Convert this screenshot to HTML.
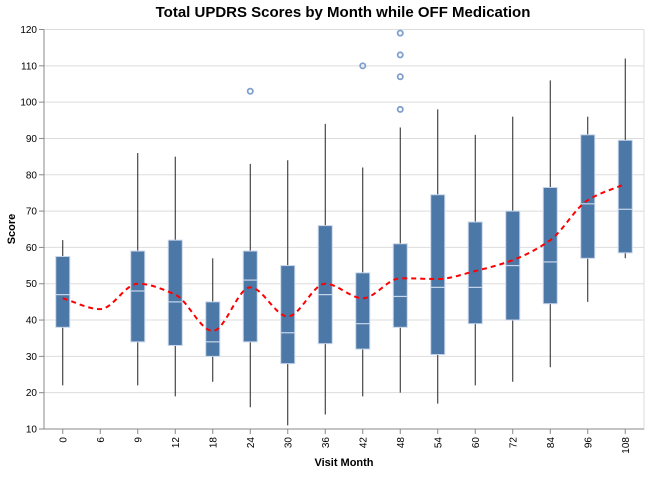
<!DOCTYPE html>
<html><head><meta charset="utf-8"><style>
body{margin:0;background:#fff;font-family:"Liberation Sans",Arial,sans-serif}
svg text{font-family:"Liberation Sans",Arial,sans-serif}
</style></head><body>
<svg id="chart" width="649" height="473" xmlns="http://www.w3.org/2000/svg">
<text x="343" y="17" text-anchor="middle" font-size="15" font-weight="bold" fill="#000">Total UPDRS Scores by Month while OFF Medication</text>
<g id="grid"></g><g id="axes"></g><g id="marks"></g>
<text transform="translate(15,229) rotate(-90)" text-anchor="middle" font-size="11" font-weight="bold">Score</text>
<text x="344" y="466" text-anchor="middle" font-size="11" font-weight="bold">Visit Month</text>
</svg>
<script>
const months=["0","6","9","12","18","24","30","36","42","48","54","60","72","84","96","108"];
const whiskLo=[22,null,22,19,23,16,11,14,19,20,17,22,23,27,45,57];
const whiskHi=[62,null,86,85,57,83,84,94,82,93,98,91,96,106,96,112];
const q1=[38,null,34,33,30,34,28,33.5,32,38,30.5,39,40,44.5,57,58.5];
const q3=[57.5,null,59,62,45,59,55,66,53,61,74.5,67,70,76.5,91,89.5];
const medians=[47,null,48,45,34,51,36.5,47,39,46.5,49,49,55,56,72,70.5];
const means=[46,43,50,47,37,49,41,50,46,51.5,51.3,53.5,56.5,62,73,77.5];
const outlierMonth=["24","42","48","48","48","48"];
const outlierVal=[103,110,98,107,113,119];
const yTicks=[10,20,30,40,50,60,70,80,90,100,110,120];

const NS="http://www.w3.org/2000/svg";
const L=44,R=644,T=29.5,B=429,yMin=10,yMax=120;
const step=(R-L)/months.length;
const x=m=>L+step*(months.indexOf(m)+0.5);
const y=v=>B-(v-yMin)/(yMax-yMin)*(B-T);
function mk(tag,attrs,parent){const e=document.createElementNS(NS,tag);for(const k in attrs)e.setAttribute(k,attrs[k]);parent.appendChild(e);return e;}
const grid=document.getElementById('grid'),axes=document.getElementById('axes'),marks=document.getElementById('marks');
mk('rect',{x:L,y:T,width:R-L,height:B-T,fill:'none',stroke:'#ddd'},grid);
yTicks.forEach(t=>{
  const g=mk('line',{x1:L,x2:R,y1:y(t),y2:y(t),stroke:'#ddd'},grid);
  
  
  mk('line',{x1:L-5,x2:L,y1:y(t),y2:y(t),stroke:'#888'},axes);
  const tx=mk('text',{x:L-7,y:y(t)+3.5,'text-anchor':'end','font-size':10,fill:'#000'},axes);
  tx.textContent=t;
  
  
});
mk('line',{x1:L,x2:L,y1:T,y2:B,stroke:'#888'},axes);
mk('line',{x1:L,x2:R,y1:B,y2:B,stroke:'#888'},axes);
months.forEach(m=>{
  const cx=x(m);
  mk('line',{x1:cx,x2:cx,y1:B,y2:B+5,stroke:'#888'},axes);
  const tx=mk('text',{transform:`translate(${cx+3.5},${B+8}) rotate(-90)`,'text-anchor':'end','font-size':10,fill:'#000'},axes);
  tx.textContent=m;
  
  
});
months.forEach((m,i)=>{
  if(q1[i]==null)return;
  const cx=x(m),w=14;
  const wl=mk('line',{x1:cx,x2:cx,y1:y(whiskLo[i]),y2:y(whiskHi[i]),stroke:'#222','stroke-width':1},marks);
  
  
  const bx=mk('rect',{x:cx-w/2,y:y(q3[i]),width:w,height:y(q1[i])-y(q3[i]),fill:'#4c78a8',stroke:'#c8d6ea','stroke-width':1},marks);
  
  
  const md=mk('line',{x1:cx-w/2,x2:cx+w/2,y1:y(medians[i]),y2:y(medians[i]),stroke:'#c8d6ea','stroke-width':1.2},marks);
  
  
});
outlierVal.forEach((v,i)=>{
  const c=mk('circle',{cx:x(outlierMonth[i]),cy:y(v),r:2.6,fill:'none',stroke:'#7f9fcc','stroke-width':1.8},marks);
  
  
});
// monotone cubic mean line
const px=months.map(m=>x(m)),py=means.map(v=>y(v)),n=px.length;
const d=[],ms=[];
for(let i=0;i<n-1;i++)d.push((py[i+1]-py[i])/(px[i+1]-px[i]));
for(let i=0;i<n;i++){
  if(i==0)ms.push(d[0]);else if(i==n-1)ms.push(d[n-2]);
  else ms.push(d[i-1]*d[i]<=0?0:3*(d[i-1]+d[i])/( (2+1)*(1) )*0+ (2*d[i-1]*d[i])/(d[i-1]+d[i]));
}
let p=`M${px[0]},${py[0]}`;
for(let i=0;i<n-1;i++){const h=(px[i+1]-px[i])/3;p+=` C${px[i]+h},${py[i]+ms[i]*h} ${px[i+1]-h},${py[i+1]-ms[i+1]*h} ${px[i+1]},${py[i+1]}`;}
const ln=mk('path',{d:p,fill:'none',stroke:'#ff0000','stroke-width':2,'stroke-dasharray':'5,4'},marks);


</script>
</body></html>
